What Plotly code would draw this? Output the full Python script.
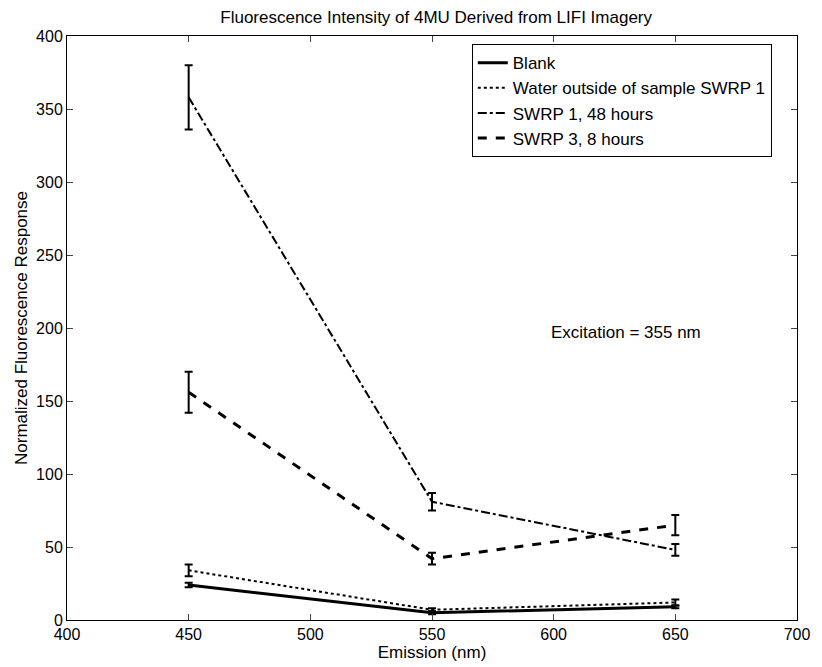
import plotly.graph_objects as go

emission = [450, 550, 650]
blank = [24, 5, 9]
blank_err = [1.5, 1, 1]
water = [34, 7, 12]
water_err = [4, 1, 2]
swrp1_48 = [358, 81, 48]
swrp1_48_err = [22, 6, 4]
swrp3_8 = [156, 42, 65]
swrp3_8_err = [14, 4, 7]

series = [
    ("Blank", blank, blank_err, "solid", 3),
    ("Water outside of sample SWRP 1", water, water_err, "dot", 2),
    ("SWRP 1, 48 hours", swrp1_48, swrp1_48_err, "dashdot", 2),
    ("SWRP 3, 8 hours", swrp3_8, swrp3_8_err, "dash", 3),
]

fig = go.Figure()
for name, y, e, dash, w in series:
    fig.add_trace(go.Scatter(
        x=emission, y=y, name=name, mode="lines",
        line=dict(color="black", width=w, dash=dash),
        error_y=dict(type="data", array=e, visible=True, color="black",
                     thickness=2, width=4),
    ))

font = "Liberation Sans, Arial, sans-serif"
fig.update_layout(
    width=814, height=659,
    paper_bgcolor="white", plot_bgcolor="white",
    margin=dict(l=57, r=14, t=28, b=43),
    font=dict(family=font, color="black", size=16),
    title=dict(text="Fluorescence Intensity of 4MU Derived from LIFI Imagery",
               x=0.526, xanchor="center", y=0.986, yanchor="middle",
               font=dict(size=17)),
    showlegend=True,
    legend=dict(x=0.5545, y=0.986, xanchor="left", yanchor="top",
                bordercolor="black", borderwidth=1, bgcolor="white",
                font=dict(size=17), tracegroupgap=0, itemwidth=30),
    annotations=[dict(x=598, y=197, xref="x", yref="y", text="Excitation = 355 nm",
                      showarrow=False, xanchor="left", font=dict(size=17))],
)
fig.update_xaxes(range=[400, 700], tickvals=[400, 450, 500, 550, 600, 650, 700],
                 ticks="inside", ticklen=6, mirror="ticks", showline=True,
                 linecolor="black", linewidth=1, showgrid=False, zeroline=False,
                 title=dict(text="Emission (nm)", standoff=0, font=dict(size=17)),
                 tickfont=dict(size=16))
fig.update_yaxes(range=[0, 400], tickvals=[0, 50, 100, 150, 200, 250, 300, 350, 400],
                 ticks="inside", ticklen=6, mirror="ticks", showline=True,
                 linecolor="black", linewidth=1, showgrid=False, zeroline=False,
                 title=dict(text="Normalized Fluorescence Response", standoff=4, font=dict(size=17)),
                 tickfont=dict(size=16))
fig.write_html("out.html")
